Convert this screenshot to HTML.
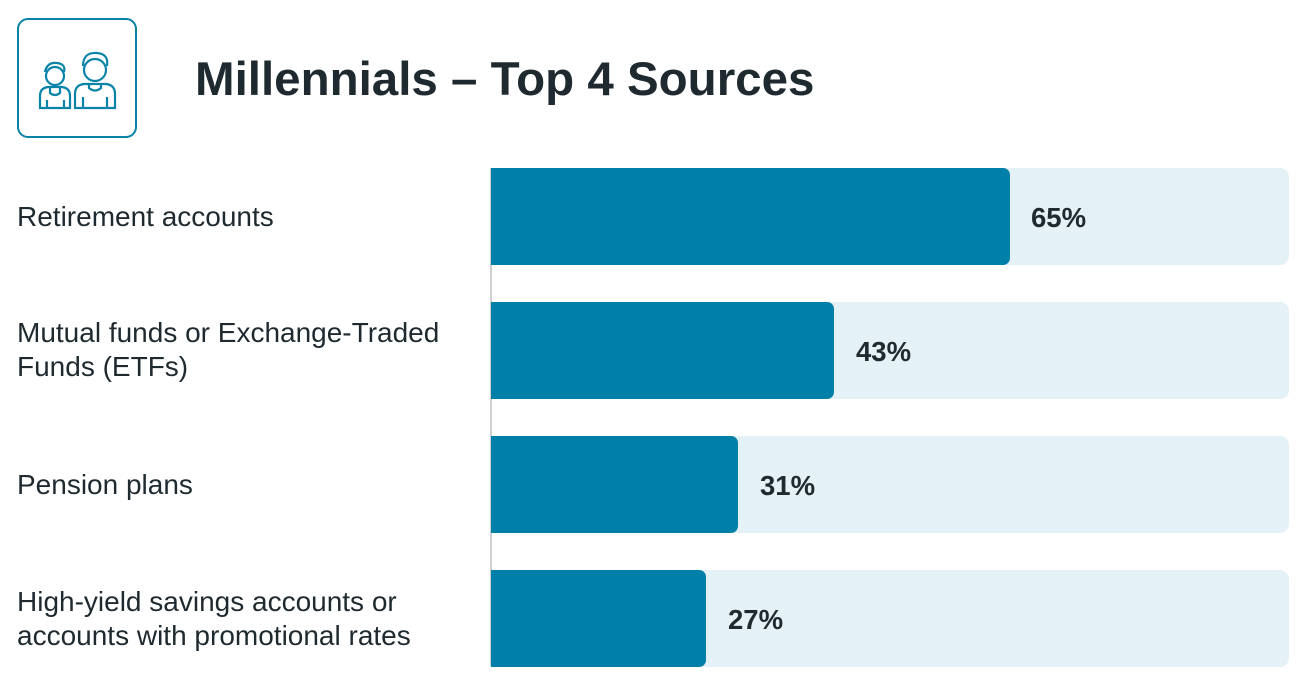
<!DOCTYPE html>
<html><head><style>
body{margin:0;width:1300px;height:677px;background:#fff;font-family:"Liberation Sans",sans-serif;position:relative;overflow:hidden}
.t{position:absolute;left:195px;top:52px;font-size:47.5px;font-weight:bold;color:#1f2a30}
.l{position:absolute;left:17px;font-size:28px;color:#1f2a30;line-height:34px}
.bg{position:absolute;left:491px;width:798px;height:97px;background:#e4f1f6;border-radius:0 9px 9px 0}
.b{position:absolute;left:491px;height:97px;background:#0080a8;border-radius:0 7px 7px 0}
.v{position:absolute;font-size:27.5px;font-weight:bold;color:#1f2a30;line-height:97px}
</style></head><body>
<div style="position:absolute;left:17px;top:18px;width:116px;height:116px;border:2.5px solid #0a83a8;border-radius:11px"></div>
<svg style="position:absolute;left:0;top:0" width="160" height="160" fill="none" stroke="#0a83a8" stroke-width="2.2">
<circle cx="55" cy="76" r="9"/><path d="M45 72q2-10 12-9q9 1 7 9"/>
<path d="M40 108v-12q0-8 8-9h14q8 1 8 9v12z M50 88v5q5 4 10 0v-5 M47 100v8 M64 100v8"/>
<circle cx="95" cy="70" r="11"/><path d="M83 66q0-14 14-13q12 1 10 13"/>
<path d="M75 108v-14q0-9 9-10h22q9 1 9 10v14z M89 84v4q6 5 12 0v-4 M83 97v11 M107 97v11"/>
</svg>
<div class="t">Millennials – Top 4 Sources</div>
<div style="position:absolute;left:490px;top:168px;width:2px;height:498px;background:#d0d0d0"></div>
<div class="bg" style="top:168px"></div><div class="b" style="top:168px;width:519px"></div><div class="v" style="top:169px;left:1031px">65%</div>
<div class="bg" style="top:302px"></div><div class="b" style="top:302px;width:343px"></div><div class="v" style="top:303px;left:856px">43%</div>
<div class="bg" style="top:436px"></div><div class="b" style="top:436px;width:247px"></div><div class="v" style="top:437px;left:760px">31%</div>
<div class="bg" style="top:570px"></div><div class="b" style="top:570px;width:215px"></div><div class="v" style="top:571px;left:728px">27%</div>
<div class="l" style="top:200px">Retirement accounts</div>
<div class="l" style="top:316px">Mutual funds or Exchange-Traded<br>Funds (ETFs)</div>
<div class="l" style="top:468px">Pension plans</div>
<div class="l" style="top:585px">High-yield savings accounts or<br>accounts with promotional rates</div>
</body></html>
